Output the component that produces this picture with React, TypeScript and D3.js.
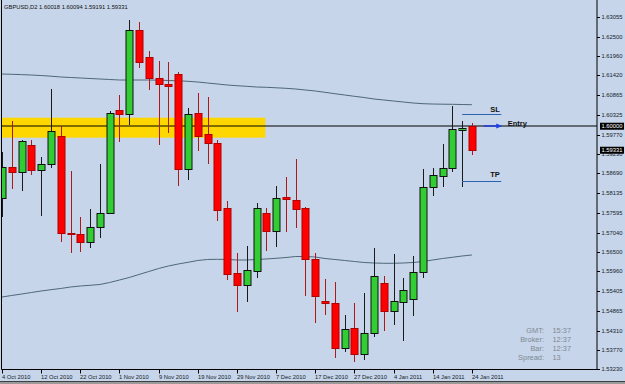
import React from "react";
import * as d3 from "d3";

// ---- data (GBPUSD, D2) ----
const opens = [1.57995,1.58859,1.58736,1.59480,1.58784,1.58942,1.59739,1.57036,1.57009,1.56769,1.57195,1.57577,1.60447,1.60335,1.62676,1.61932,1.61355,1.61180,1.61458,1.58811,1.60363,1.59778,1.59536,1.57725,1.55913,1.55579,1.55978,1.57577,1.57092,1.58023,1.57947,1.57716,1.56304,1.55133,1.55086,1.53815,1.54373,1.53648,1.54233,1.55635,1.54863,1.55097,1.55181,1.55950,1.58318,1.58625,1.58847,1.59906,1.60018];
const highs = [1.59285,1.60149,1.59619,1.59619,1.59154,1.61040,1.60009,1.58764,1.57482,1.57697,1.58942,1.60427,1.60873,1.62963,1.62915,1.62107,1.61820,1.61801,1.61522,1.60519,1.60920,1.60817,1.59619,1.57920,1.56462,1.56666,1.57855,1.57716,1.58338,1.58597,1.59081,1.57761,1.56462,1.55746,1.55671,1.54743,1.55086,1.55348,1.56618,1.55830,1.56443,1.55766,1.56387,1.58811,1.58847,1.59516,1.60558,1.60149,1.60094];
const lows = [1.57466,1.58246,1.58199,1.58644,1.57510,1.58847,1.56769,1.56462,1.56490,1.56618,1.56897,1.57557,1.59572,1.60037,1.61617,1.61004,1.59480,1.59823,1.58346,1.58505,1.59321,1.58942,1.57371,1.55718,1.54818,1.55097,1.55782,1.56526,1.56638,1.57064,1.57159,1.55281,1.54512,1.54743,1.53553,1.53721,1.53425,1.53489,1.54139,1.54306,1.54465,1.54019,1.54724,1.55782,1.58059,1.58318,1.58736,1.58318,1.59191];
const closes = [1.58859,1.58736,1.59592,1.58784,1.58942,1.59870,1.57020,1.56999,1.56786,1.57195,1.57577,1.60363,1.60335,1.62676,1.61784,1.61355,1.61171,1.61115,1.58811,1.60344,1.59731,1.59527,1.57677,1.55877,1.55579,1.55989,1.57716,1.57092,1.58003,1.57975,1.57705,1.56304,1.55281,1.55086,1.53815,1.54345,1.53648,1.54233,1.55830,1.54863,1.55133,1.55431,1.55950,1.58318,1.58636,1.58831,1.59926,1.59962,1.59331];
const maSlow = [1.61458,1.61450,1.61441,1.61430,1.61416,1.61397,1.61375,1.61361,1.61347,1.61333,1.61319,1.61305,1.61291,1.61291,1.61291,1.61291,1.61285,1.61277,1.61269,1.61255,1.61235,1.61207,1.61180,1.61152,1.61132,1.61115,1.61096,1.61088,1.61074,1.61060,1.61040,1.61012,1.60985,1.60948,1.60909,1.60873,1.60837,1.60803,1.60762,1.60734,1.60706,1.60678,1.60650,1.60631,1.60622,1.60617,1.60614,1.60608,1.60603];
const maFast = [1.55245,1.55287,1.55328,1.55370,1.55412,1.55448,1.55482,1.55523,1.55551,1.55571,1.55593,1.55649,1.55718,1.55788,1.55872,1.55955,1.56039,1.56108,1.56164,1.56212,1.56262,1.56290,1.56295,1.56290,1.56276,1.56276,1.56290,1.56304,1.56323,1.56345,1.56373,1.56373,1.56359,1.56317,1.56290,1.56262,1.56234,1.56206,1.56192,1.56184,1.56184,1.56192,1.56206,1.56234,1.56276,1.56317,1.56351,1.56387,1.56415];
const priceTicks = ["1.63055","1.62500","1.61960","1.61420","1.60865","1.60325","1.59770","1.59230","1.58690","1.58135","1.57595","1.57040","1.56500","1.55960","1.55405","1.54865","1.54310","1.53770","1.53230"];
const dateLabels = ["4 Oct 2010","12 Oct 2010","22 Oct 2010","1 Nov 2010","9 Nov 2010","19 Nov 2010","29 Nov 2010","7 Dec 2010","17 Dec 2010","27 Dec 2010","4 Jan 2011","14 Jan 2011","24 Jan 2011"];
const dateLabelBars = [0,4,8,12,16,20,24,28,32,36,40,44,48];
const symbolTitle = "GBPUSD,D2  1.60018 1.60094 1.59191 1.59331";
const zonePrices = [1.60241, 1.59684];
const zoneBars = [-2, 26.9];
const entryPrice = 1.60000;
const slPrice = 1.60344;
const tpPrice = 1.58477;
const levelBars = [47, 51];
const arrowBars = [49.2, 51];
const bidPrice = "1.59331";
const entryLabel = "1.60000";
const infoLabels = ["GMT:", "Broker:", "Bar:", "Spread:"];
const infoValues = ["15:37", "12:37", "12:37", "13"];

const W = 625, H = 384;
const PL = 1.5, PR = 597, PT = 0, PB = 369.5;
const FONT = "'Liberation Sans', Arial, sans-serif";
const BG = "#C6D5E9";

export default function App() {
  const x = d3.scaleLinear().domain([0, 48]).range([2, 471.9]);
  const y = d3.scaleLinear().domain([1.5323, 1.63055]).range([369.3, 16.7]);
  const px = (v: number) => Math.round(v) + 0.5;

  const lineGen = d3.line<number>().x((_, i) => x(i)).y((d) => y(d));

  return (
    <svg width={W} height={H} style={{ position: "absolute", left: 0, top: 0 }} fontFamily={FONT}>
      <defs>
        <clipPath id="plot">
          <rect x={PL} y={PT} width={PR - PL} height={PB - PT} />
        </clipPath>
      </defs>
      <rect x={0} y={0} width={W} height={H} fill={BG} />
      <g clipPath="url(#plot)">
        {/* support zone */}
        <rect x={x(zoneBars[0])} y={y(zonePrices[0])} width={x(zoneBars[1]) - x(zoneBars[0])}
          height={y(zonePrices[1]) - y(zonePrices[0])} fill="#FFD700" />
        {/* moving averages */}
        <path d={lineGen(maSlow) || ""} fill="none" stroke="#4E6878" strokeWidth={1} />
        <path d={lineGen(maFast) || ""} fill="none" stroke="#4E6878" strokeWidth={1} />
        {/* entry horizontal line */}
        <line x1={PL} x2={PR} y1={px(y(entryPrice)) - 0.5} y2={px(y(entryPrice)) - 0.5} stroke="#000" strokeWidth={1} />
        {/* candles */}
        {opens.map((o, i) => {
          const c = closes[i];
          const up = c >= o;
          const cx = px(x(i));
          const top = Math.round(y(Math.max(o, c)));
          const bot = Math.round(y(Math.min(o, c)));
          const hgt = Math.max(1, bot - top);
          return (
            <g key={i}>
              <line x1={cx} x2={cx} y1={Math.round(y(highs[i]))} y2={Math.round(y(lows[i]))}
                stroke={up ? "#1a1a1a" : "#B01818"} strokeWidth={1} />
              <rect x={cx - 3.5} y={top + 0.5} width={7} height={hgt}
                fill={up ? "#32CD32" : "#FF0000"} stroke={up ? "#111" : "#B00000"} strokeWidth={1} />
            </g>
          );
        })}
        {/* SL / TP levels */}
        <line x1={x(levelBars[0])} x2={x(levelBars[1])} y1={px(y(slPrice))} y2={px(y(slPrice))} stroke="#2A64B0" strokeWidth={1} />
        <line x1={x(levelBars[0])} x2={x(levelBars[1])} y1={px(y(tpPrice))} y2={px(y(tpPrice))} stroke="#2A64B0" strokeWidth={1} />
        <text x={x(levelBars[1]) - 1.5} y={y(slPrice) - 1.5} textAnchor="end" fontSize={7.5} fontWeight="bold" fill="#111">SL</text>
        <text x={x(levelBars[1]) - 1.5} y={y(tpPrice) - 3.5} textAnchor="end" fontSize={7.5} fontWeight="bold" fill="#111">TP</text>
        {/* entry arrow */}
        <line x1={x(arrowBars[0])} x2={x(arrowBars[1]) - 4} y1={px(y(entryPrice)) - 0.5} y2={px(y(entryPrice)) - 0.5} stroke="#1E3FE6" strokeWidth={1.5} />
        <path d={`M${x(arrowBars[1]) + 1},${px(y(entryPrice)) - 0.5} L${x(arrowBars[1]) - 5},${px(y(entryPrice)) - 3} L${x(arrowBars[1]) - 5},${px(y(entryPrice)) + 2} Z`} fill="#1E3FE6" />
        <text x={x(arrowBars[1]) + 6.5} y={y(entryPrice) - 0.5} fontSize={7.5} fontWeight="bold" fill="#111">Entry</text>
        {/* info */}
        {infoLabels.map((l, i) => (
          <g key={l}>
            <text x={544} y={332.8 + i * 9.1} textAnchor="end" fontSize={7.4} fill="#7E8894">{l}</text>
            <text x={552.5} y={332.8 + i * 9.1} fontSize={7.4} fill="#7E8894">{infoValues[i]}</text>
          </g>
        ))}
        <text x={4} y={9.3} fontSize={5.8} fill="#111">{symbolTitle}</text>
      </g>
      {/* frame */}
      <line x1={PL} x2={PL} y1={0} y2={PB} stroke="#000" strokeWidth={1} />
      <line x1={PR} x2={PR} y1={0} y2={PB} stroke="#000" strokeWidth={1} />
      <line x1={PL} x2={PR} y1={PB} y2={PB} stroke="#000" strokeWidth={1} />
      {/* price axis */}
      {priceTicks.map((t) => {
        const ty = y(+t);
        return (
          <g key={t}>
            <line x1={PR} x2={PR + 3} y1={px(ty)} y2={px(ty)} stroke="#000" strokeWidth={1} />
            <text x={601.5} y={ty + 2.1} fontSize={5.8} fill="#141c2c">{t}</text>
          </g>
        );
      })}
      {[entryLabel, bidPrice].map((t) => {
        const ty = y(+t);
        return (
          <g key={"hl" + t}>
            <rect x={600} y={ty - 3.6} width={24} height={7} fill="#000" />
            <text x={601.5} y={ty + 2.1} fontSize={5.8} fill="#fff">{t}</text>
          </g>
        );
      })}
      {/* date axis */}
      {dateLabels.map((d, i) => {
        const tx = px(x(dateLabelBars[i]));
        return (
          <g key={d}>
            <line x1={tx} x2={tx} y1={PB} y2={PB + 4} stroke="#000" strokeWidth={1} />
            <text x={tx - 0.5} y={378.6} fontSize={5.8} fill="#141c2c">{d}</text>
          </g>
        );
      })}
      <rect x={0} y={381} width={W} height={3} fill="#9a9a9a" />
      <line x1={0} x2={W} y1={381.5} y2={381.5} stroke="#404040" strokeWidth={1} />
    </svg>
  );
}
